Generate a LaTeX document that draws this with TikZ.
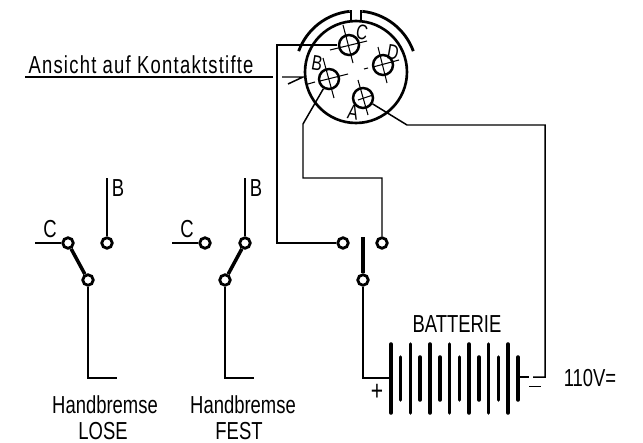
\documentclass[tikz,border=0pt]{standalone}
\usepackage{fontspec}
\setmainfont[FakeStretch=0.75]{Liberation Sans}
\tikzset{
  wire/.style={line width=0.85pt},
  lever/.style={line width=2pt},
  cell/.style={line width=2pt, line cap=round},
  aim/.style={line width=0.6pt},
  contact/.style={circle,draw,fill=white,line width=1.6pt,inner sep=0pt,minimum size=0.21cm},
  pin/.style={circle,draw,line width=1.4pt,inner sep=0pt,minimum size=0.4cm},
  label/.style={inner sep=0pt,font=\fontsize{14}{16}\selectfont},
  pinlabel/.style={inner sep=0pt,rotate=-10,font=\fontsize{12}{14}\selectfont},
}
\begin{document}
\begin{tikzpicture}[x=0.02cm,y=-0.02cm]
        \useasboundingbox (0,0) rectangle (643,443);

        % connector body
        \path
        (356,72) node[circle,draw,line width=1.5pt,inner sep=0pt,minimum size=2.04cm](shell) {}
        (349,45) node[pin](pinC) {}
        (383,65) node[pin](pinD) {}
        (329,79) node[pin](pinB) {}
        (363,98) node[pin](pinA) {}
        (362,32) node[pinlabel](lblC) {C}
        (393,52) node[pinlabel](lblD) {D}
        (317,63) node[pinlabel](lblB) {B}
        (353,112) node[pinlabel](lblA) {A}
        ;
        \draw[line width=1.6pt] ([shift={(160:1.22cm)}]shell.center) arc[start angle=160,end angle=96,radius=1.22cm];
        \draw[line width=1.6pt] ([shift={(84:1.22cm)}]shell.center) arc[start angle=84,end angle=20,radius=1.22cm];
        \draw[line width=1.3pt] (351,10) -- (351,22);
        \draw[line width=1.3pt] (361,10) -- (361,22);
        \draw[aim] (343,25) -- (353,63);
        \draw[aim] (330,50) -- (367,41);
        \draw[aim] (378,47) -- (387,83);
        \draw[aim] (364,69) -- (368,68);
        \draw[aim] (373,67) -- (399,60);
        \draw[aim] (308,84) -- (315,82);
        \draw[aim] (320,81) -- (348,74);
        \draw[aim] (323,58) -- (334,98);
        \draw[aim] (358,80) -- (368,115);
        \draw[aim] (358,100) -- (373,95);

        % title with pointer
        \path
        (141,65) node[label,font=\fontsize{14}{16}\selectfont\addfontfeature{LetterSpace=5}](title) {Ansicht auf Kontaktstifte}
        (25,77) coordinate(titleL)
        (273,77) coordinate(titleR)
        (282,77) coordinate(ptrA)
        (303,77) coordinate(ptrB)
        (288,84) coordinate(ptrC)
        ;
        \draw[wire] (titleL) -- (titleR);
        \draw[wire] (ptrA) -- (ptrB) -- (ptrC);

        % handbrake LOSE
        \path
        (68,243) node[contact](C1) {}
        (107,243) node[contact](B1) {}
        (88,280) node[contact](M1) {}
        (35,243) coordinate(C1end)
        (107,178) coordinate(B1end)
        (88,378) coordinate(M1a)
        (117,378) coordinate(M1b)
        (50,229) node[label](lblC1) {C}
        (118,188) node[label](lblB1) {B}
        (105,405) node[label](lose1) {Handbremse}
        (103,431) node[label](lose2) {LOSE}
        ;
        \draw[wire] (C1end) -- (C1);
        \draw[wire] (B1end) -- (B1);
        \draw[wire] (M1) -- (M1a) -- (M1b);
        \draw[lever] (C1) -- (M1);

        % handbrake FEST
        \path
        (205,243) node[contact](C2) {}
        (245,243) node[contact](B2) {}
        (225,280) node[contact](M2) {}
        (172,243) coordinate(C2end)
        (245,178) coordinate(B2end)
        (225,378) coordinate(M2a)
        (254,378) coordinate(M2b)
        (187,229) node[label](lblC2) {C}
        (256,188) node[label](lblB2) {B}
        (243,405) node[label](fest1) {Handbremse}
        (239,431) node[label](fest2) {FEST}
        ;
        \draw[wire] (C2end) -- (C2);
        \draw[wire] (B2end) -- (B2);
        \draw[wire] (M2) -- (M2a) -- (M2b);
        \draw[lever] (B2) -- (M2);

        % switch and wiring
        \path
        (343,243) node[contact](S1) {}
        (382,243) node[contact](S2) {}
        (363,280) node[contact](S0) {}
        (363,237) coordinate(armTop)
        (337,45) coordinate(wireC)
        (277,45) coordinate(wireCa)
        (277,243) coordinate(wireCb)
        (303,124) coordinate(wireBa)
        (303,178) coordinate(wireBb)
        (382,178) coordinate(wireBc)
        (407,125) coordinate(wireAa)
        (545,125) coordinate(wireAb)
        (545,377) coordinate(wireAc)
        (533,377) coordinate(wireAd)
        ;
        \draw[wire] (wireC) -- (wireCa) -- (wireCb) -- (S1);
        \draw[wire] (pinB) -- (wireBa) -- (wireBb) -- (wireBc) -- (S2);
        \draw[wire] (pinA) -- (wireAa) -- (wireAb) -- (wireAc) -- (wireAd);
        \draw[lever] (armTop) -- (S0);

        % battery
        \path
        (363,378) coordinate(batP)
        (391,378) coordinate(batPend)
        (518,377) coordinate(batN)
        (529,377) coordinate(batNend)
        (457,324) node[label](batt) {BATTERIE}
        (590,378) node[label](volt) {110V=}
        (377,392) node[label,font=\fontsize{16}{16}\selectfont](plus) {+}
        (535,390) node[label,font=\fontsize{16}{16}\selectfont](minus) {\rule[0.27em]{0.42em}{0.04em}}
        ;
        \draw[wire] (S0) -- (batP) -- (batPend);
        \draw[wire] (batN) -- (batNend);
        \foreach \x in {391,410.5,430,449.5,469,488.5,508}
          \draw[cell] (\x,344) -- (\x,413);
        \foreach \x in {400.5,420,440,459.5,479,498.5,518}
          \draw[cell] (\x,357) -- (\x,400);
      \end{tikzpicture}
\end{document}
